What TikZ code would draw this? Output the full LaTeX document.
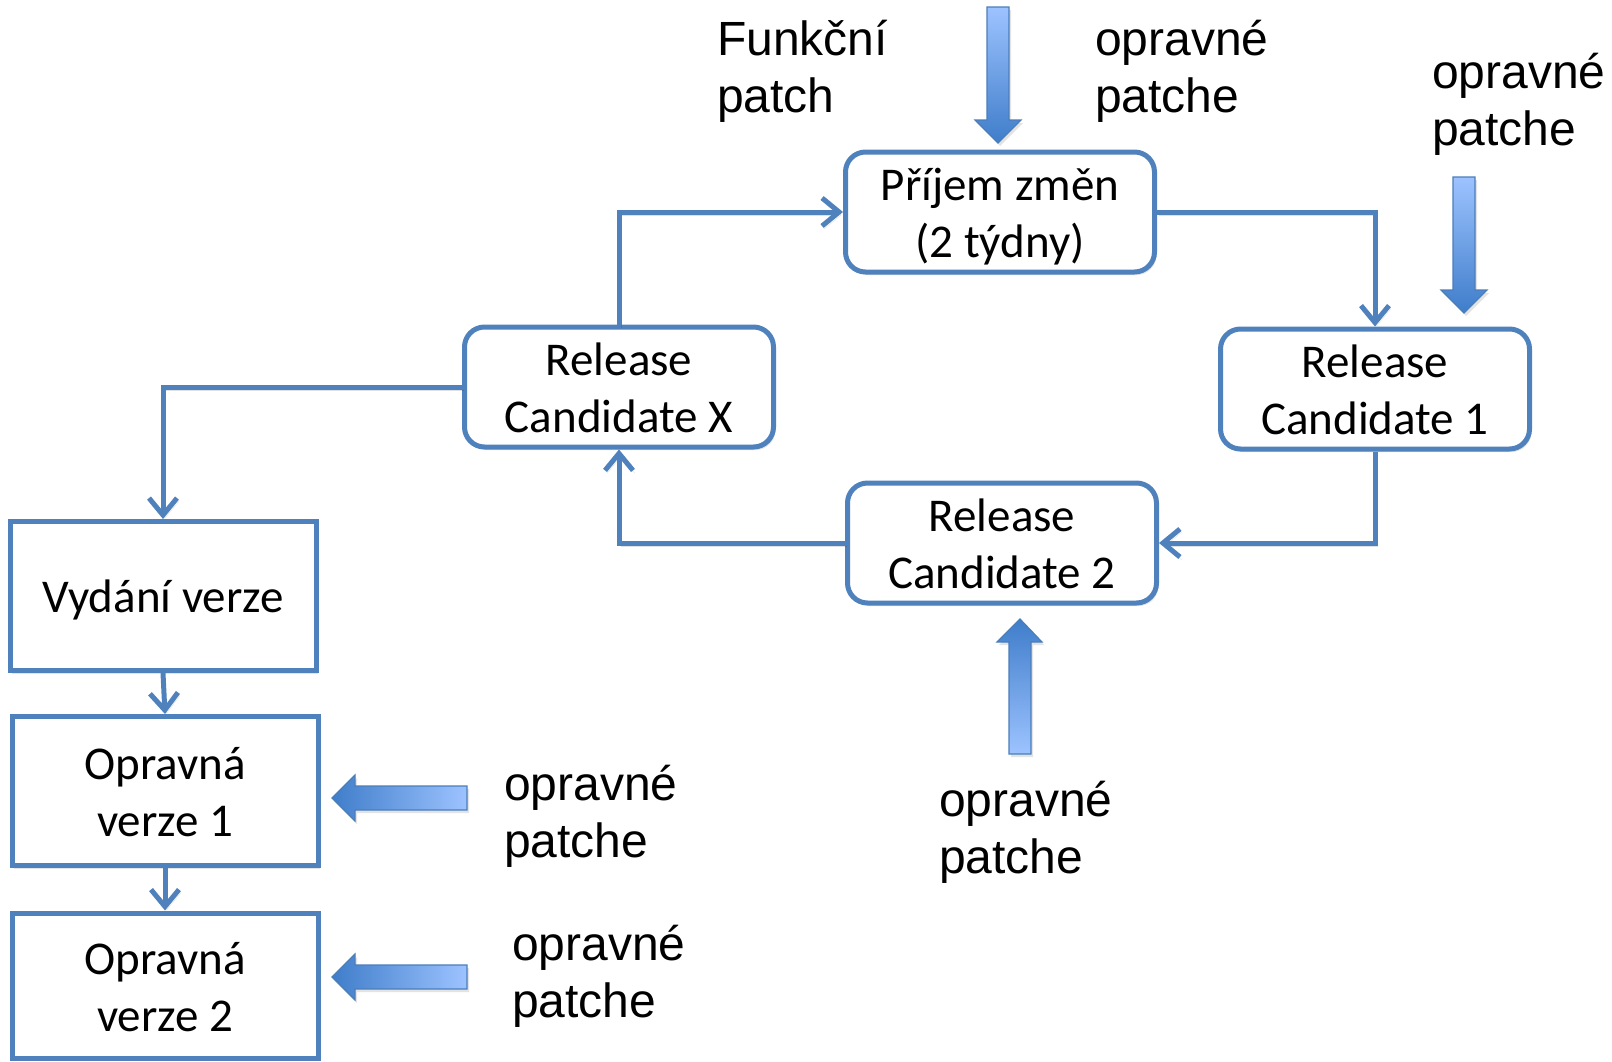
\documentclass[tikz,border=0pt]{standalone}
\usepackage{fontspec}
\newfontfamily\labelfont{Liberation Sans}
\newfontfamily\boxfont{Carlito}
\usetikzlibrary{arrows.meta,shadows}
\definecolor{flowblue}{RGB}{79,129,189}
\definecolor{arrlight}{RGB}{157,195,255}
\definecolor{arrdark}{RGB}{63,125,202}
\definecolor{arredge}{RGB}{74,126,187}

\begin{document}
\begin{tikzpicture}[x=1pt,y=-1pt,
  softshadow/.style={drop shadow={shadow xshift=2pt, shadow yshift=-3pt, opacity=0.18, fill=black!60}},
  boxbase/.style={draw=flowblue, line width=5pt, align=center, inner sep=0pt,
    fill=white, softshadow, font=\boxfont\fontsize{47}{57}\selectfont},
  rbox/.style={boxbase, rounded corners=20pt, minimum width=309pt, minimum height=120pt,
    text height=101pt, text depth=10pt},
  sbox/.style={boxbase, minimum width=306pt, minimum height=149pt,
    text height=101pt, text depth=10pt},
  onebox/.style={sbox, text height=42pt, text depth=10pt},
  conn/.style={draw=flowblue, line width=5pt,
    -{Straight Barb[length=17pt,width=28pt]},
    preaction={draw=black, opacity=0.12, transform canvas={xshift=2pt, yshift=-3pt}}},
  lbl/.style={anchor=west, align=left, inner sep=0pt,
    font=\labelfont\fontsize{48}{57}\selectfont},
  blockarrow/.style={draw=arredge, line width=1.2pt, softshadow}
]
\useasboundingbox (0,0) rectangle (1612,1061);

% release cycle boxes
\node[rbox] (prijem) at (1000,212) {Příjem změn\\(2 týdny)};
\node[rbox] (rc1) at (1375,389) {Release\\Candidate 1};
\node[rbox] (rc2) at (1002,543) {Release\\Candidate 2};
\node[rbox] (rcx) at (619,387) {Release\\Candidate X};

% release and maintenance boxes
\node[onebox] (vyd) at (163,596) {Vydání verze};
\node[sbox] (op1) at (165,791) {Opravná\\verze 1};
\node[sbox, minimum height=145pt] (op2) at (165,985.5) {Opravná\\verze 2};

% connectors between the boxes
\draw[conn] (rcx.north) |- (prijem.west);
\draw[conn] (prijem.east) -| (rc1.north);
\draw[conn] (rc1.south) |- (rc2.east);
\draw[conn] (rc2.west) -| (rcx.south);
\draw[conn] (rcx.west) -| (vyd.north);
\draw[conn] (vyd.south) -- (op1.north);
\draw[conn] (op1.south) -- (op2.north);

% incoming patch arrows
\shadedraw[blockarrow, top color=arrlight, bottom color=arrdark]
  (987,7) -- (1009,7) -- (1009,120) -- (1021,120) -- (998,143) -- (975,120) -- (987,120) -- cycle;
\shadedraw[blockarrow, top color=arrlight, bottom color=arrdark]
  (1453,177) -- (1475,177) -- (1475,290) -- (1487,290) -- (1464,313) -- (1441,290) -- (1453,290) -- cycle;
\shadedraw[blockarrow, top color=arrdark, bottom color=arrlight]
  (1009,754) -- (1031,754) -- (1031,642) -- (1042,642) -- (1020,619) -- (997,642) -- (1009,642) -- cycle;
\shadedraw[blockarrow, left color=arrdark, right color=arrlight]
  (467,786) -- (467,810) -- (355,810) -- (355,821) -- (332,798) -- (355,775) -- (355,786) -- cycle;
\shadedraw[blockarrow, left color=arrdark, right color=arrlight]
  (467,965) -- (467,989) -- (355,989) -- (355,1000) -- (332,977) -- (355,954) -- (355,965) -- cycle;

% labels
\node[lbl] (funk) at (717,71) {Funkční\\patch};
\node[lbl] (optop) at (1095,71) {opravné\\patche};
\node[lbl] (opright) at (1432,104) {opravné\\patche};
\node[lbl] (opv1) at (504,816) {opravné\\patche};
\node[lbl] (opv2) at (512,976) {opravné\\patche};
\node[lbl] (oprc2) at (939,832) {opravné\\patche};
\end{tikzpicture}
\end{document}
